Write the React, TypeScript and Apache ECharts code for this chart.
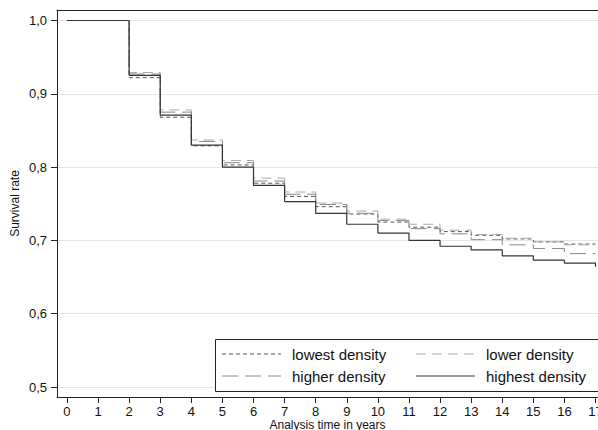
import React, { useEffect, useRef } from "react";
import * as echarts from "echarts";

const years = [0, 2, 3, 4, 5, 6, 7, 8, 9, 10, 11, 12, 13, 14, 15, 16, 17];
const seriesNames = ["lowest density", "lower density", "higher density", "highest density"];
const lowest = [1.0, 0.922, 0.868, 0.829, 0.803, 0.778, 0.760, 0.746, 0.736, 0.725, 0.718, 0.712, 0.707, 0.702, 0.698, 0.695, 0.695];
const lower = [1.0, 0.929, 0.878, 0.837, 0.809, 0.785, 0.766, 0.751, 0.740, 0.729, 0.722, 0.714, 0.708, 0.703, 0.698, 0.694, 0.694];
const higher = [1.0, 0.927, 0.875, 0.835, 0.806, 0.781, 0.763, 0.749, 0.737, 0.727, 0.716, 0.709, 0.701, 0.694, 0.689, 0.682, 0.682];
const highest = [1.0, 0.925, 0.871, 0.830, 0.800, 0.775, 0.753, 0.737, 0.722, 0.710, 0.700, 0.692, 0.687, 0.679, 0.673, 0.669, 0.664];
const allValues = [lowest, lower, higher, highest];

const FONT = "'Liberation Sans', Arial, sans-serif";
const styles = [
  { color: "#555555", type: [4, 3], width: 1 },
  { color: "#aaaaaa", type: [10, 6], width: 1 },
  { color: "#888888", type: [16, 7], width: 1 },
  { color: "#333333", type: "solid", width: 1.2 },
];

export default function App() {
  const ref = useRef<HTMLDivElement>(null);
  useEffect(() => {
    document.body.style.margin = "0";
    const chart = echarts.init(ref.current!, null, { renderer: "svg" });
    const fmt = (v: number) => v.toFixed(1).replace(".", ",");

    const legendPos = [
      { x: 222, y: 354 },
      { x: 416, y: 354 },
      { x: 222, y: 376 },
      { x: 416, y: 376 },
    ];
    const legendGraphics: any[] = [
      {
        type: "rect",
        shape: { x: 215.5, y: 339.5, width: 430, height: 52 },
        style: { fill: "#ffffff", stroke: "#222222", lineWidth: 1 },
        z: 10,
      },
    ];
    seriesNames.forEach((name, i) => {
      const p = legendPos[i];
      const s = styles[i];
      legendGraphics.push({
        type: "line",
        shape: { x1: p.x, y1: p.y, x2: p.x + 59, y2: p.y },
        style: {
          stroke: s.color,
          lineWidth: s.width,
          lineDash: s.type === "solid" ? null : (s.type as number[]),
        },
        z: 11,
      });
      legendGraphics.push({
        type: "text",
        x: p.x + 70,
        y: p.y,
        style: {
          text: name,
          fill: "#111111",
          font: `15px ${FONT}`,
          verticalAlign: "middle",
          align: "left",
        },
        z: 11,
      });
    });

    chart.setOption({
      animation: false,
      backgroundColor: "#ffffff",
      textStyle: { fontFamily: FONT },
      grid: { left: 57, right: 0, top: 10, bottom: 33, containLabel: false, outerBoundsMode: "none" },
      xAxis: [
        {
          type: "value",
          min: -0.32,
          max: 17.08,
          minInterval: 1,
          maxInterval: 1,
          name: "Analysis time in years",
          nameLocation: "middle",
          nameGap: 22,
          nameMoveOverlap: false,
          nameTextStyle: { fontSize: 12, color: "#111", fontFamily: FONT },
          axisLine: { show: true, onZero: false, lineStyle: { color: "#222", width: 1 } },
          axisTick: { show: true, length: 6, lineStyle: { color: "#222" } },
          axisLabel: {
            showMinLabel: false,
            showMaxLabel: true,
            color: "#111",
            fontSize: 13,
            margin: 8,
            fontFamily: FONT,
            formatter: (v: number) => (Math.abs(v - Math.round(v)) < 1e-6 ? String(Math.round(v)) : ""),
          },
          splitLine: { show: false },
        },
        {
          type: "value",
          position: "top",
          min: -0.32,
          max: 17.08,
          axisLine: { show: true, onZero: false, lineStyle: { color: "#222", width: 1 } },
          axisTick: { show: false },
          axisLabel: { show: false },
          splitLine: { show: false },
        },
      ],
      yAxis: {
        type: "value",
        min: 0.48636,
        max: 1.01432,
        minInterval: 0.1,
        maxInterval: 0.1,
        name: "Survival rate",
        nameLocation: "middle",
        nameGap: 36,
        nameMoveOverlap: false,
        nameRotate: 90,
        nameTextStyle: { fontSize: 12, color: "#111", fontFamily: FONT },
        axisLine: { show: true, onZero: false, lineStyle: { color: "#222", width: 1 } },
        axisTick: { show: true, length: 6, lineStyle: { color: "#222" } },
        axisLabel: {
          showMinLabel: false,
          showMaxLabel: false,
          color: "#111",
          fontSize: 13,
          margin: 10,
          fontFamily: FONT,
          formatter: fmt,
        },
        splitLine: { show: true, lineStyle: { color: "#e6e6e6", width: 1 } },
      },
      series: allValues.map((vals, i) => ({
        type: "line",
        name: seriesNames[i],
        step: "end",
        showSymbol: false,
        symbol: "none",
        data: years.map((t, j) => [t, vals[j]]),
        lineStyle: { color: styles[i].color, type: styles[i].type as any, width: styles[i].width },
        z: i === 3 ? 5 : 3,
      })),
      graphic: legendGraphics,
    });
    return () => chart.dispose();
  }, []);
  return <div ref={ref} style={{ width: 598, height: 430 }} />;
}
